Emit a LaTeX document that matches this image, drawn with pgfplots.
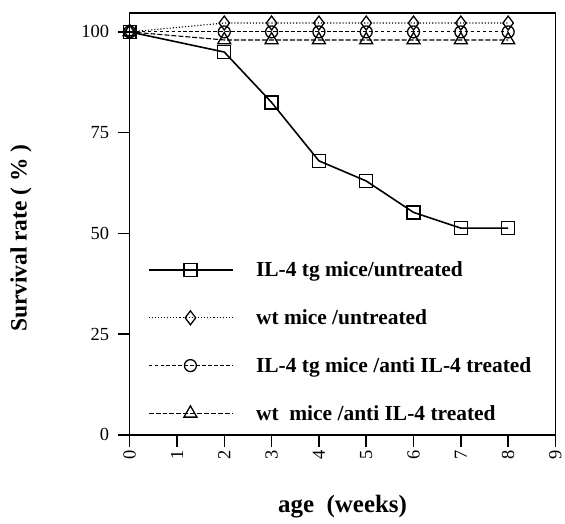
\documentclass[border=0pt]{standalone}
\usepackage{fontspec}
\setmainfont{Liberation Serif}
\usepackage{pgfplots}
\pgfplotsset{compat=1.18}
\begin{document}
\begin{tikzpicture}
\begin{axis}[
  scale only axis, width=427pt, height=423pt,
  xmin=0, xmax=9, ymin=0, ymax=104.7,
  xtick={0,...,9}, ytick={0,25,50,75,100},
  xtick pos=left, ytick pos=left, tick align=outside,
  major tick length=12pt,
  tick style={line width=1.5pt, black},
  axis line style={line width=1.5pt},
  /pgf/number format/assume math mode=true,
  tick label style={font=\fontsize{18.5}{18.5}\selectfont},
  xticklabel style={rotate=90, anchor=east},
  yticklabel style={xshift=-5pt},
  xlabel={age\ \ (weeks)}, ylabel={Survival rate ( \% )},
  xlabel style={at={(rel axis cs:0.5,0)}, anchor=base, yshift=-78pt, inner sep=0pt,
    font=\fontsize{25}{25}\selectfont\bfseries},
  ylabel style={at={(rel axis cs:0,0.466)}, anchor=south, yshift=98pt, inner sep=0pt,
    font=\fontsize{23.5}{23.5}\selectfont\bfseries},
  legend cell align=left,
  legend style={draw=none, fill=none, at={(rel axis cs:0.035,0.42)}, anchor=north west,
    font=\fontsize{21.5}{21.5}\selectfont\bfseries, row sep=27.5pt},
  legend image code/.code={\draw[mark repeat=2,mark phase=2,#1] plot coordinates {(0pt,0pt) (42pt,0pt) (85pt,0pt)};
    \path (105pt,0pt);},
  every axis plot/.append style={black},
]
\addplot[line width=1.6pt, mark=square, mark size=6.5pt, mark options={solid, fill=white, line width=1.3pt}]
  coordinates {(0,100) (2,95) (3,82.5) (4,68) (5,63) (6,55.2) (7,51.3) (8,51.3)};
\addlegendentry{IL-4 tg mice/untreated}
\addplot[line width=1.1pt, dotted, mark=diamond, mark size=7pt, mark options={solid, fill=white, line width=1.3pt}]
  coordinates {(0,100) (2,102.2) (3,102.2) (4,102.2) (5,102.2) (6,102.2) (7,102.2) (8,102.2)};
\addlegendentry{wt mice /untreated}
\addplot[line width=1.1pt, dash pattern=on 3.5pt off 2.5pt, mark=o, mark size=6pt, mark options={solid, fill=white, line width=1.3pt}]
  coordinates {(0,100) (2,100) (3,100) (4,100) (5,100) (6,100) (7,100) (8,100)};
\addlegendentry{IL-4 tg mice /anti IL-4 treated}
\addplot[line width=1.1pt, dash pattern=on 5pt off 2pt, mark=triangle, mark size=7.5pt, mark options={solid, fill=white, line width=1.3pt}]
  coordinates {(0,100) (2,98) (3,98) (4,98) (5,98) (6,98) (7,98) (8,98)};
\addlegendentry{wt\ \ mice /anti IL-4 treated}
\end{axis}
\path (current axis.north west) ++(-130pt,13pt);
\path (current axis.south east) ++(9pt,-89pt);
\end{tikzpicture}
\end{document}
